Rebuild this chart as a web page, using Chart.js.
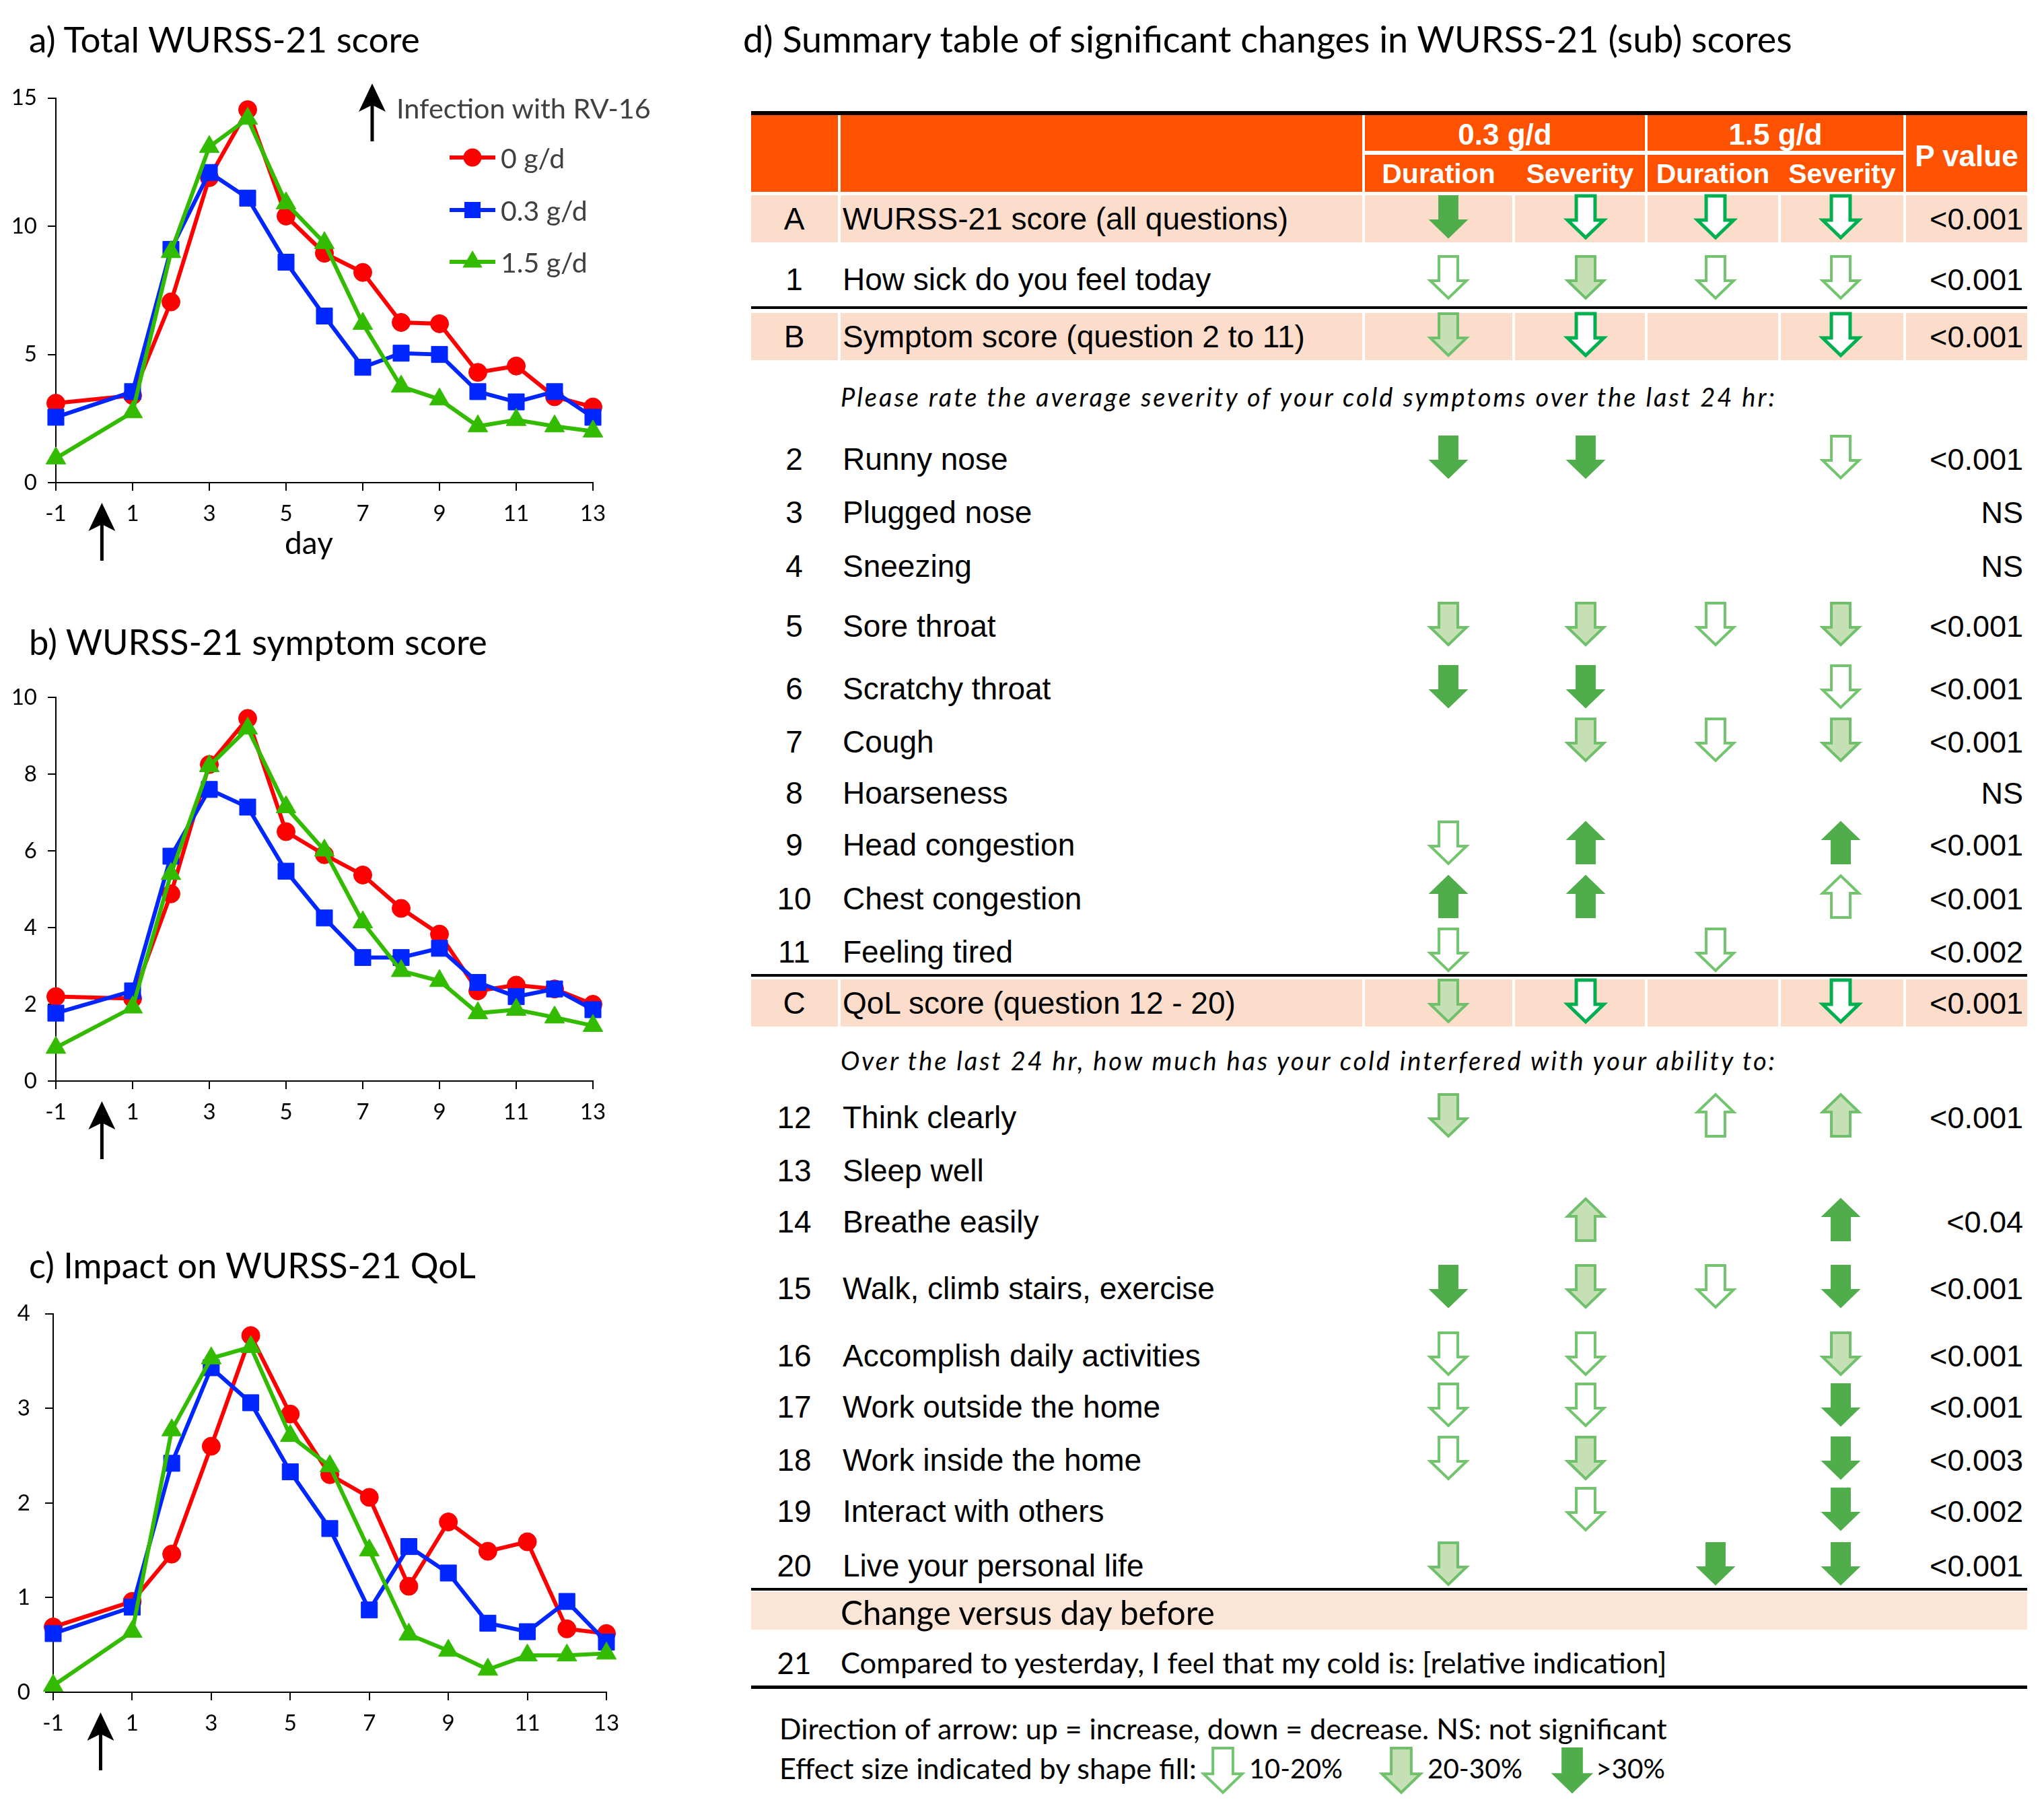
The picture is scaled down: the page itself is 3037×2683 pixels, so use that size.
<!DOCTYPE html>
<html>
<head>
<meta charset="utf-8">
<script src="https://cdn.jsdelivr.net/npm/chart.js@4.4.1/dist/chart.umd.min.js"></script>
<style>
  html, body { margin: 0; padding: 0; background: #fff; }
  #page { position: relative; width: 3037px; height: 2683px; overflow: hidden; font-family: Lato, sans-serif; }
  .t { position: absolute; white-space: nowrap; line-height: 1; }
  .r { position: absolute; }
  canvas { position: absolute; }
</style>
</head>
<body>
<div id="page"></div>
<script>
// ---- line chart data (days since start, day 0 = infection) ----
var days = [-1, 1, 2, 3, 4, 5, 6, 7, 8, 9, 10, 11, 12, 13];
var xTicks = [-1, 1, 3, 5, 7, 9, 11, 13];
var infectionDay = 0.2;
var doseLabels = ['0 g/d', '0.3 g/d', '1.5 g/d'];

var total0  = [3.1, 3.4, 7.05, 11.9, 14.55, 10.4, 8.95, 8.2, 6.25, 6.2, 4.3, 4.55, 3.35, 2.95];
var total03 = [2.55, 3.55, 9.1, 12.1, 11.1, 8.6, 6.5, 4.5, 5.05, 5.0, 3.55, 3.15, 3.55, 2.55];
var total15 = [0.95, 2.75, 9.0, 13.1, 14.2, 10.9, 9.35, 6.2, 3.75, 3.25, 2.2, 2.45, 2.2, 2.0];

var symptom0  = [2.2, 2.15, 4.88, 8.25, 9.45, 6.5, 5.9, 5.37, 4.5, 3.83, 2.35, 2.5, 2.4, 2.0];
var symptom03 = [1.77, 2.35, 5.86, 7.6, 7.14, 5.47, 4.25, 3.22, 3.22, 3.46, 2.57, 2.2, 2.4, 1.86];
var symptom15 = [0.87, 1.92, 5.4, 8.21, 9.19, 7.14, 6.01, 4.14, 2.87, 2.61, 1.77, 1.86, 1.66, 1.44];

var qol0  = [0.69, 0.96, 1.46, 2.6, 3.77, 2.94, 2.3, 2.06, 1.12, 1.8, 1.49, 1.59, 0.67, 0.62];
var qol03 = [0.62, 0.9, 2.42, 3.43, 3.06, 2.33, 1.73, 0.87, 1.54, 1.26, 0.73, 0.64, 0.96, 0.53];
var qol15 = [0.07, 0.64, 2.77, 3.53, 3.65, 2.71, 2.39, 1.5, 0.61, 0.44, 0.24, 0.39, 0.39, 0.41];

// ---- summary table data ----
var rowIds = ['A', '1', 'B', '2', '3', '4', '5', '6', '7', '8', '9', '10', '11', 'C',
              '12', '13', '14', '15', '16', '17', '18', '19', '20'];
var rowLabels = ['WURSS-21 score (all questions)', 'How sick do you feel today',
  'Symptom score (question 2 to 11)', 'Runny nose', 'Plugged nose', 'Sneezing', 'Sore throat',
  'Scratchy throat', 'Cough', 'Hoarseness', 'Head congestion', 'Chest congestion', 'Feeling tired',
  'QoL score (question 12 - 20)', 'Think clearly', 'Sleep well', 'Breathe easily',
  'Walk, climb stairs, exercise', 'Accomplish daily activities', 'Work outside the home',
  'Work inside the home', 'Interact with others', 'Live your personal life'];
var pValues = ['<0.001', '<0.001', '<0.001', '<0.001', 'NS', 'NS', '<0.001', '<0.001', '<0.001', 'NS',
  '<0.001', '<0.001', '<0.002', '<0.001', '<0.001', '', '<0.04', '<0.001', '<0.001', '<0.001',
  '<0.003', '<0.002', '<0.001'];
// sign = direction (-1 down, +1 up), size = effect (1: 10-20%, 2: 20-30%, 3: >30%)
var dur03 = [-3, -1, -2, -3, 0, 0, -2, -3, 0, 0, -1, 3, -1, -2, -2, 0, 0, -3, -1, -1, -1, 0, -2];
var sev03 = [-1, -2, -1, -3, 0, 0, -2, -3, -2, 0, 3, 3, 0, -1, 0, 0, 2, -2, -1, -1, -2, -1, 0];
var dur15 = [-1, -1, 0, 0, 0, 0, -1, 0, -1, 0, 0, 0, -1, 0, 1, 0, 0, -1, 0, 0, 0, 0, -3];
var sev15 = [-1, -1, -1, -1, 0, 0, -2, -1, -2, 0, 3, 1, 0, -1, 2, 0, 3, -3, -2, -3, -3, -3, -3];
var summaryRows = ['A', 'B', 'C'];

// ---- layout ----
var page = document.getElementById('page');
var colors = ['#ff0000', '#0026ff', '#33bb00'];
var pointStyles = ['circle', 'rect', 'triangle'];
var pointRadii = [13.5, 17, 17];
var rowY = [325, 415, 500, 682, 761, 841, 930, 1023, 1102, 1178, 1255, 1335, 1414, 1490,
            1660, 1739, 1815, 1914, 2014, 2090, 2169, 2245, 2326];
var cells = [[1116, 1245], [1249, 2024], [2028, 2247], [2251, 2444], [2448, 2642], [2646, 2828], [2832, 3012]];
var arrowX = [2152, 2356, 2549, 2735];
var fits = [];

function txt(s, x, y, o) {
  o = o || {};
  var el = document.createElement('div');
  el.className = 't';
  el.textContent = s;
  el.style.left = x + 'px';
  el.style.top = y + 'px';
  el.style.fontFamily = o.font || 'Lato';
  el.style.fontSize = (o.size || 40) + 'px';
  if (o.bold) el.style.fontWeight = 'bold';
  if (o.italic) el.style.fontStyle = 'italic';
  el.style.color = o.color || '#000';
  var ax = o.align === 'center' ? '-50%' : o.align === 'right' ? '-100%' : '0';
  el.style.transform = 'translate(' + ax + ',-50%)';
  page.appendChild(el);
  if (o.w) fits.push([el, o.w, o.fit || 'size']);
  return el;
}

function rect(x, y, w, h, c) {
  var el = document.createElement('div');
  el.className = 'r';
  el.style.left = x + 'px'; el.style.top = y + 'px';
  el.style.width = w + 'px'; el.style.height = h + 'px';
  el.style.background = c;
  page.appendChild(el);
}

function fitText(el, w, mode) {
  var cur = el.getBoundingClientRect().width;
  if (mode === 'ls') {
    el.style.letterSpacing = ((w - cur) / el.textContent.length) + 'px';
  } else {
    el.style.fontSize = (parseFloat(el.style.fontSize) * w / cur) + 'px';
  }
}

// black "infection" arrow: tip at (x, yTip), tail at yTail, notched head
function blackArrow(ctx, x, yTip, yTail) {
  ctx.save();
  ctx.strokeStyle = '#000';
  ctx.fillStyle = '#000';
  ctx.lineWidth = 5;
  ctx.beginPath(); ctx.moveTo(x, yTail); ctx.lineTo(x, yTip + 30); ctx.stroke();
  ctx.beginPath();
  ctx.moveTo(x, yTip);
  ctx.lineTo(x + 20, yTip + 42);
  ctx.lineTo(x, yTip + 32);
  ctx.lineTo(x - 20, yTip + 42);
  ctx.closePath();
  ctx.fill();
  ctx.restore();
}

// ---- line charts ----
var infectionArrow = {
  id: 'infectionArrow',
  afterDraw: function(chart) {
    var x = chart.scales.x.getPixelForValue(infectionDay);
    var y0 = chart.chartArea.bottom;
    blackArrow(chart.ctx, x, y0 + 30, y0 + 116);
  }
};

function lineChart(L, series, yMax, yStep) {
  var cv = document.createElement('canvas');
  var h = L.padTop + L.plotH + 130;
  cv.width = L.width; cv.height = h;
  cv.style.left = L.left + 'px'; cv.style.top = L.top + 'px';
  cv.style.width = L.width + 'px'; cv.style.height = h + 'px';
  page.appendChild(cv);
  var axisGrid = { drawOnChartArea: false, drawTicks: true, tickLength: 12, color: '#000', lineWidth: 2 };
  var tickFont = { family: 'Lato', size: 33 };
  new Chart(cv, {
    type: 'line',
    data: {
      datasets: series.map(function(s, i) {
        return {
          label: doseLabels[i],
          data: days.map(function(d, j) { return { x: d, y: s[j] }; }),
          borderColor: colors[i],
          backgroundColor: colors[i],
          borderWidth: 6,
          pointStyle: pointStyles[i],
          pointRadius: pointRadii[i],
          pointBorderWidth: 1,
          pointBorderColor: colors[i],
          pointBackgroundColor: colors[i],
          tension: 0,
          clip: false,
          order: 2 - i
        };
      })
    },
    options: {
      responsive: false,
      animation: false,
      events: [],
      layout: { padding: { top: L.padTop, right: L.padRight, left: 0, bottom: 0 } },
      plugins: { legend: { display: false }, tooltip: { enabled: false } },
      scales: {
        x: {
          type: 'linear', min: -1, max: 13,
          afterBuildTicks: function(s) { s.ticks = xTicks.map(function(v) { return { value: v }; }); },
          afterFit: function(s) { s.height = 130; },
          grid: axisGrid,
          border: { color: '#000', width: 2 },
          ticks: { font: tickFont, color: '#000', padding: 15, maxRotation: 0, autoSkip: false }
        },
        y: {
          min: 0, max: yMax,
          afterFit: function(s) { s.width = L.yW; },
          grid: axisGrid,
          border: { color: '#000', width: 2 },
          ticks: { stepSize: yStep, font: tickFont, color: '#000', padding: L.yPad }
        }
      }
    },
    plugins: [infectionArrow]
  });
}

function build() {
  // panel titles
  txt('a) Total WURSS-21 score', 43, 58, { size: 54, w: 581 });
  txt('b) WURSS-21 symptom score', 43, 953, { size: 54, w: 681 });
  txt('c) Impact on WURSS-21 QoL', 43, 1879, { size: 54, w: 664 });
  txt('d) Summary table of significant changes in WURSS-21 (sub) scores', 1104, 58, { size: 54, w: 1559 });

  lineChart({ left: 0, top: 110, width: 930, padTop: 33, plotH: 574, yW: 83, padRight: 49, yPad: 16 },
    [total0, total03, total15], 15, 5);
  lineChart({ left: 0, top: 1000, width: 930, padTop: 36, plotH: 570, yW: 83, padRight: 49, yPad: 16 },
    [symptom0, symptom03, symptom15], 10, 2);
  lineChart({ left: 0, top: 1910, width: 950, padTop: 37, plotH: 567, yW: 79, padRight: 49, yPad: 22 },
    [qol0, qol03, qol15], 4, 1);

  txt('day', 459, 806, { size: 46, align: 'center' });

  // legend of panel a
  txt('Infection with RV-16', 589, 161, { size: 41, color: '#404040', w: 378 });
  var legY = [234, 312, 389];
  doseLabels.forEach(function(l, i) { txt(l, 744, legY[i], { size: 41, color: '#404040' }); });

  // table: header
  rect(1116, 165, 1896, 6, '#000');
  [[1116, 1245], [1249, 2024], [2028, 2444], [2448, 2828], [2832, 3012]].forEach(function(c) {
    rect(c[0], 171, c[1] - c[0], 114, '#ff5200');
  });
  rect(2028, 224, 800, 6, '#fff');
  var hf = 'Liberation Sans';
  txt('0.3 g/d', 2236, 200, { font: hf, size: 44, bold: true, color: '#fff', align: 'center' });
  txt('1.5 g/d', 2638, 200, { font: hf, size: 44, bold: true, color: '#fff', align: 'center' });
  ['Duration', 'Severity', 'Duration', 'Severity'].forEach(function(s, i) {
    var c = cells[i + 2];
    txt(s, (c[0] + c[1]) / 2, 258, { font: hf, size: 41, bold: true, color: '#fff', align: 'center' });
  });
  txt('P value', 2922, 232, { font: hf, size: 44, bold: true, color: '#fff', align: 'center' });

  // table: rules and bands
  rect(1116, 455, 1896, 4, '#000');
  rect(1116, 1447, 1896, 4, '#000');
  rect(1116, 2359, 1896, 4, '#000');
  rect(1116, 2504, 1896, 5, '#000');
  rowIds.forEach(function(id, i) {
    if (summaryRows.indexOf(id) < 0) return;
    cells.forEach(function(c) { rect(c[0], rowY[i] - 35, c[1] - c[0], 70, '#fcdccb'); });
  });
  rect(1116, 2365, 1896, 56, '#fbe5d6');

  // table: rows
  rowIds.forEach(function(id, i) {
    txt(id, 1180, rowY[i], { font: hf, size: 46, align: 'center' });
    txt(rowLabels[i], 1252, rowY[i], { font: hf, size: 46 });
    if (pValues[i]) txt(pValues[i], 3006, rowY[i], { font: hf, size: 45, align: 'right' });
  });
  txt('Please rate the average severity of your cold symptoms over the last 24 hr:', 1249, 589,
    { size: 38, italic: true, w: 1391, fit: 'ls' });
  txt('Over the last 24 hr, how much has your cold interfered with your ability to:', 1249, 1575,
    { size: 38, italic: true, w: 1391, fit: 'ls' });
  txt('Change versus day before', 1249, 2396, { size: 44, w: 556 });
  txt('21', 1180, 2470, { size: 44, align: 'center' });
  txt('Compared to yesterday, I feel that my cold is: [relative indication]', 1249, 2470, { size: 42, w: 1228 });

  // footnote
  txt('Direction of arrow: up = increase, down = decrease. NS: not significant', 1158, 2568, { size: 42, w: 1319 });
  txt('Effect size indicated by shape fill:', 1158, 2627, { size: 42, w: 620 });
  txt('10-20%', 1856, 2627, { size: 42, w: 139 });
  txt('20-30%', 2121, 2627, { size: 42, w: 141 });
  txt('>30%', 2371, 2627, { size: 42, w: 103 });

  fits.forEach(function(f) { fitText(f[0], f[1], f[2]); });

  // arrows + legend glyphs layer
  var cv = document.createElement('canvas');
  cv.width = 3037; cv.height = 2683;
  cv.style.left = '0px'; cv.style.top = '0px';
  page.appendChild(cv);
  var ctx = cv.getContext('2d');

  [dur03, sev03, dur15, sev15].forEach(function(col, k) {
    col.forEach(function(v, i) {
      if (!v) return;
      drawArrow(ctx, arrowX[k], rowY[i] - 3, 62, v < 0 ? -1 : 1, Math.abs(v), summaryRows.indexOf(rowIds[i]) >= 0);
    });
  });
  [1817, 2082, 2336].forEach(function(x, i) { drawArrow(ctx, x, 2630, 66, -1, i + 1, false); });

  // legend markers
  legY.forEach(function(y, i) {
    ctx.strokeStyle = colors[i]; ctx.fillStyle = colors[i]; ctx.lineWidth = 6;
    ctx.beginPath(); ctx.moveTo(668, y); ctx.lineTo(736, y); ctx.stroke();
    marker(ctx, pointStyles[i], 702, y, pointRadii[i]);
  });
  // infection arrow in legend
  blackArrow(ctx, 553, 124, 210);
}

function marker(ctx, style, x, y, r) {
  ctx.beginPath();
  if (style === 'circle') {
    ctx.arc(x, y, r, 0, Math.PI * 2);
  } else if (style === 'rect') {
    var s = r * Math.SQRT1_2;
    ctx.rect(x - s, y - s, 2 * s, 2 * s);
  } else {
    var a = Math.PI * 2 / 3;
    ctx.moveTo(x, y - r);
    ctx.lineTo(x + r * Math.sin(a), y - r * Math.cos(a));
    ctx.lineTo(x - r * Math.sin(a), y - r * Math.cos(a));
    ctx.closePath();
  }
  ctx.fill();
}

function drawArrow(ctx, cx, cy, h, dir, level, crisp) {
  var hw = h * 0.435, sw = h * 0.225, hl = h * 0.42;
  var top = -h / 2, bot = h / 2, neck = bot - hl;
  var pts = [[-sw, top], [sw, top], [sw, neck], [hw, neck], [0, bot], [-hw, neck], [-sw, neck]];
  ctx.save();
  ctx.beginPath();
  pts.forEach(function(p, i) {
    var px = cx + p[0], py = cy + (dir < 0 ? p[1] : -p[1]);
    if (i) ctx.lineTo(px, py); else ctx.moveTo(px, py);
  });
  ctx.closePath();
  ctx.lineJoin = 'miter';
  if (level === 3) {
    ctx.fillStyle = '#4fae4b'; ctx.strokeStyle = '#4fae4b'; ctx.lineWidth = 2;
  } else if (level === 2) {
    ctx.fillStyle = '#c5e0b4'; ctx.strokeStyle = '#6fbf6b'; ctx.lineWidth = 4;
  } else {
    ctx.fillStyle = '#fff'; ctx.strokeStyle = crisp ? '#00b050' : '#72c46e'; ctx.lineWidth = crisp ? 5 : 4;
  }
  ctx.fill();
  ctx.stroke();
  ctx.restore();
}

if (document.fonts && document.fonts.ready) {
  document.fonts.ready.then(build);
} else {
  build();
}
</script>
</body>
</html>
